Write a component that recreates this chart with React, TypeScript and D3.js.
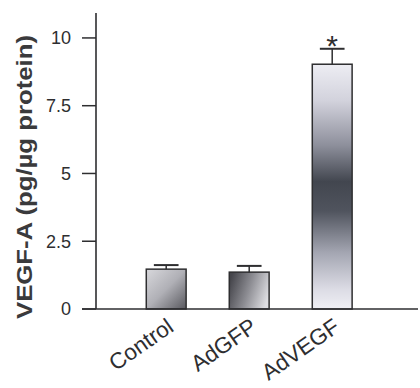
import React from "react";
import * as d3 from "d3";

const categories = ["Control", "AdGFP", "AdVEGF"];
const means = [1.47, 1.36, 9.03];
const errors = [0.15, 0.23, 0.57];
const significant = [false, false, true];
const yTicks = [0, 2.5, 5, 7.5, 10];
const yTickLabels = ["0", "2.5", "5", "7.5", "10"];
const yTitle = "VEGF-A (pg/\u00b5g protein)";

const W = 420;
const H = 388;
const axisX = 96;
const axisY = 309;

export default function App() {
  const y = d3.scaleLinear().domain([0, 10.92]).range([axisY, 13]);
  const x = d3
    .scaleBand<string>()
    .domain(categories)
    .range([124.7, 373.7])
    .paddingInner(0.52)
    .paddingOuter(0.26);
  const bw = x.bandwidth();
  const capW = bw * 0.62;
  const font = "'Liberation Sans', Arial, sans-serif";
  const ink = "#2e2e30";

  return (
    <svg
      width={W}
      height={H}
      style={{ position: "absolute", left: 0, top: 0, background: "#fff" }}
      fontFamily={font}
    >
      <defs>
        <linearGradient id="g0" x1="0" y1="0" x2="1" y2="1">
          <stop offset="0" stopColor="#d8d8dc" />
          <stop offset="0.5" stopColor="#b0b0b6" />
          <stop offset="1" stopColor="#58585e" />
        </linearGradient>
        <linearGradient id="g1" x1="0" y1="0.3" x2="1" y2="0.6">
          <stop offset="0" stopColor="#46464c" />
          <stop offset="0.5" stopColor="#8e8e94" />
          <stop offset="1" stopColor="#dedee2" />
        </linearGradient>
        <linearGradient id="g2" x1="0" y1="0" x2="0" y2="1">
          <stop offset="0" stopColor="#ededf3" />
          <stop offset="0.15" stopColor="#d2d2dc" />
          <stop offset="0.33" stopColor="#8e909c" />
          <stop offset="0.48" stopColor="#42464f" />
          <stop offset="0.6" stopColor="#50545e" />
          <stop offset="0.77" stopColor="#a4a6b2" />
          <stop offset="0.92" stopColor="#dcdce5" />
          <stop offset="1" stopColor="#efeff4" />
        </linearGradient>
      </defs>

      {/* bars */}
      {categories.map((c, i) => {
        const x0 = x(c)!;
        const top = y(means[i]);
        return (
          <rect
            key={c}
            x={x0}
            y={top}
            width={bw}
            height={y(0) - top}
            fill={`url(#g${i})`}
            stroke={ink}
            strokeWidth={1.5}
          />
        );
      })}

      {/* error bars */}
      {categories.map((c, i) => {
        const cx = x(c)! + bw / 2;
        const top = y(means[i] + errors[i]);
        return (
          <g key={c + "e"} stroke={ink}>
            <line x1={cx} x2={cx} y1={y(means[i])} y2={top} strokeWidth={1.5} />
            <line x1={cx - capW / 2} x2={cx + capW / 2} y1={top} y2={top} strokeWidth={2} />
          </g>
        );
      })}

      {/* significance */}
      {categories.map((c, i) =>
        significant[i] ? (
          <text
            key={c + "s"}
            x={x(c)! + bw / 2}
            y={y(means[i] + errors[i]) + 7}
            textAnchor="middle"
            fontSize={30}
            fill={ink}
          >
            *
          </text>
        ) : null
      )}

      {/* axes */}
      <line x1={axisX} x2={axisX} y1={y.range()[1]} y2={axisY} stroke={ink} strokeWidth={1.6} />
      <line x1={axisX - 14} x2={W - 2} y1={axisY} y2={axisY} stroke={ink} strokeWidth={1.6} />
      {yTicks.map((t, i) => (
        <g key={t}>
          <line x1={axisX - 14} x2={axisX} y1={y(t)} y2={y(t)} stroke={ink} strokeWidth={1.5} />
          <text
            x={71}
            y={y(t)}
            dy="0.36em"
            textAnchor="end"
            fontSize={18}
            fill={ink}
          >
            {yTickLabels[i]}
          </text>
        </g>
      ))}

      {/* x labels */}
      {categories.map((c) => {
        const cx = x(c)! + bw / 2 + 9;
        const ly = axisY + 21;
        return (
          <text
            key={c + "l"}
            x={cx}
            y={ly}
            textAnchor="end"
            fontSize={22.5}
            fill={ink}
            transform={`rotate(-35 ${cx} ${ly})`}
          >
            {c}
          </text>
        );
      })}

      {/* y title */}
      <text
        x={0}
        y={0}
        transform={`translate(32 177) rotate(-90)`}
        textAnchor="middle"
        fontSize={22}
        fontWeight="bold"
        fill="#3a3a3c"
        textLength={284}
        lengthAdjust="spacingAndGlyphs"
      >
        {yTitle}
      </text>
    </svg>
  );
}
